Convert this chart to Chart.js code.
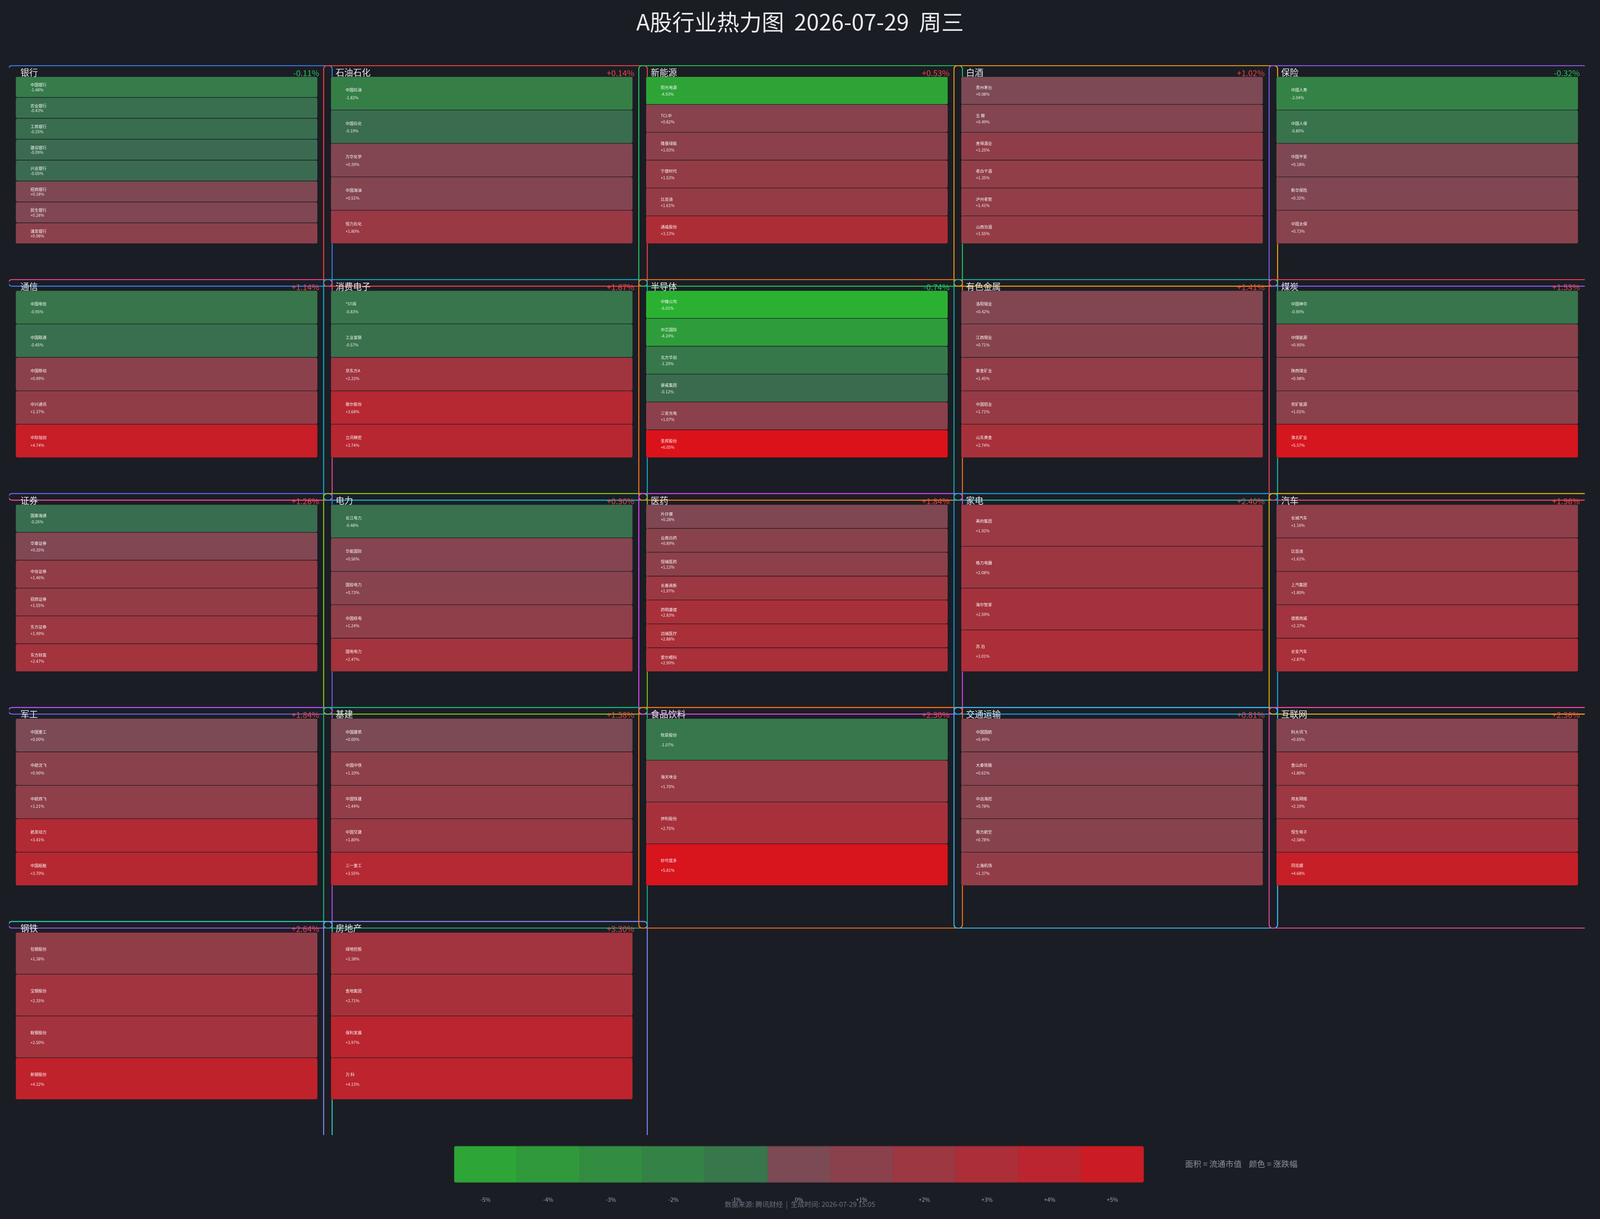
<!DOCTYPE html>
<html>
<head>
<meta charset="utf-8">
<title>A股行业热力图</title>
<script src="https://cdn.jsdelivr.net/npm/chart.js@4.4.1/dist/chart.umd.min.js"></script>
<style>
html,body{margin:0;padding:0;background:#1b1d24;overflow:hidden;width:100%;height:100%}
#wrap{position:relative;width:100vw;height:100vh}
</style>
</head>
<body>
<div id="wrap"><canvas id="c"></canvas></div>
<script>
// ---------------- data ----------------
const titleText = 'A股行业热力图  2026-07-29  周三';
const noteText = '面积 = 流通市值    颜色 = 涨跌幅';
const footerText = '数据来源: 腾讯财经  |  生成时间: 2026-07-29 15:05';

const sectorNames = ['银行','石油石化','新能源','白酒','保险',
  '通信','消费电子','半导体','有色金属','煤炭',
  '证券','电力','医药','家电','汽车',
  '军工','基建','食品饮料','交通运输','互联网',
  '钢铁','房地产'];
const sectorChanges = [-0.11,0.14,0.53,1.02,-0.32,
  1.14,1.67,-0.74,1.41,1.53,
  1.26,0.90,1.84,2.40,1.96,
  1.84,1.58,2.30,0.81,2.36,
  2.64,3.30];
const sectorColors = ['#3b82f6','#ef4444','#22c55e','#f59e0b','#8b5cf6',
  '#ec4899','#06b6d4','#f97316','#14b8a6','#f43f5e',
  '#6366f1','#84cc16','#d946ef','#0ea5e9','#eab308',
  '#a855f7','#10b981','#f97316','#38bdf8','#ec4899',
  '#2dd4bf','#818cf8'];

const stockNames = [
  ['中国银行','农业银行','工商银行','建设银行','兴业银行','招商银行','民生银行','浦发银行'],
  ['中国石油','中国石化','万华化学','中国海油','恒力石化'],
  ['阳光电源','TCL中','隆基绿能','宁德时代','比亚迪','通威股份'],
  ['贵州茅台','五 粮','舍得酒业','老白干酒','泸州老窖','山西汾酒'],
  ['中国人寿','中国人保','中国平安','新华保险','中国太保'],
  ['中国电信','中国联通','中国移动','中兴通讯','中际旭创'],
  ['*ST闻','工业富联','京东方A','歌尔股份','立讯精密'],
  ['中微公司','中芯国际','北方华创','豪威集团','三安光电','圣邦股份'],
  ['洛阳钼业','江西铜业','紫金矿业','中国铝业','山东黄金'],
  ['中国神华','中煤能源','陕西煤业','兖矿能源','淮北矿业'],
  ['国泰海通','华泰证券','中信证券','招商证券','东方证券','东方财富'],
  ['长江电力','华能国际','国投电力','中国核电','国电电力'],
  ['片仔癀','云南白药','恒瑞医药','长春高新','药明康德','迈瑞医疗','爱尔眼科'],
  ['美的集团','格力电器','海尔智家','苏 泊'],
  ['长城汽车','比亚迪','上汽集团','德赛西威','长安汽车'],
  ['中国重工','中航沈飞','中航西飞','航发动力','中国船舶'],
  ['中国建筑','中国中铁','中国铁建','中国交建','三一重工'],
  ['牧原股份','海天味业','伊利股份','妙可蓝多'],
  ['中国国航','大秦铁路','中远海控','南方航空','上海机场'],
  ['科大讯飞','金山办公','用友网络','恒生电子','同花顺'],
  ['包钢股份','宝钢股份','鞍钢股份','新钢股份'],
  ['绿地控股','金地集团','保利发展','万 科']
];
const stockChanges = [
  [-1.48,-0.43,-0.25,-0.09,-0.05,0.18,0.28,0.98],
  [-1.82,-0.19,0.39,0.51,1.80],
  [-4.93,0.82,1.03,1.53,1.61,3.13],
  [0.08,0.49,1.25,1.35,1.41,1.55],
  [-2.04,-0.80,0.18,0.32,0.73],
  [-0.95,-0.45,0.99,1.37,4.74],
  [-0.83,-0.57,2.33,3.68,3.74],
  [-6.01,-4.24,-1.20,-0.12,1.07,6.05],
  [0.42,0.71,1.45,1.71,2.74],
  [-0.90,0.95,0.98,1.01,5.57],
  [-0.26,0.35,1.46,1.55,1.99,2.47],
  [-0.48,0.56,0.73,1.24,2.47],
  [0.28,0.89,1.13,1.97,2.83,2.88,2.90],
  [1.92,2.08,2.59,3.01],
  [1.16,1.61,1.80,2.37,2.87],
  [0.00,0.90,1.21,3.41,3.70],
  [0.00,1.10,1.44,1.80,3.55],
  [-1.07,1.70,2.75,5.81],
  [0.49,0.61,0.78,0.78,1.37],
  [0.65,1.80,2.10,2.58,4.68],
  [1.38,2.35,2.50,4.32],
  [2.38,2.71,3.97,4.13]
];
const legendSteps = [-5,-4,-3,-2,-1,0,1,2,3,4,5];

// ---------------- layout ----------------
const W = window.innerWidth || 5148, H = window.innerHeight || 3121;
const sx = W / 5148, sy = H / 3121, fs = Math.min(sx, sy);
const GRID_COLS = 5, GRID_ROWS = 5;
const ROW_PX = 547.8, COL_PX = 1014;
const CELL_TOP = 29 / ROW_PX, CELL_SPAN = 428 / ROW_PX;
const BOX_OVER = 19 / ROW_PX, BOX_SHIFT = 12 / COL_PX;
const FONT = '"Noto Sans CJK SC","Noto Sans",sans-serif';
function px(n) { return Math.max(1, n * fs).toFixed(1) + 'px ' + FONT; }

function heat(p) {
  let r, g, b;
  if (p < 0) {
    const t = Math.min(-p / 8, 1);
    r = 58 - 20 * t; g = 106 + 94 * t; b = 80 - 40 * t;
  } else {
    const t = Math.min(p / 8, 1);
    r = 123 + 128 * t; g = 74 - 74 * t; b = 85 - 77 * t;
  }
  return 'rgb(' + Math.round(r) + ',' + Math.round(g) + ',' + Math.round(b) + ')';
}
function fmt(p) { return (p >= 0 ? '+' : '') + p.toFixed(2) + '%'; }

const cellData = [], boxData = [], firstCell = [];
sectorNames.forEach((s, k) => {
  const col = k % GRID_COLS, row = Math.floor(k / GRID_COLS);
  boxData.push({x: col + 0.5 + BOX_SHIFT, y: [row, row + 1 + BOX_OVER], k: k});
  const n = stockNames[k].length;
  firstCell.push(cellData.length);
  stockNames[k].forEach((nm, i) => {
    cellData.push({
      x: col + 0.5,
      y: [row + CELL_TOP + CELL_SPAN * i / n, row + CELL_TOP + CELL_SPAN * (i + 1) / n],
      name: nm, pct: stockChanges[k][i], k: k
    });
  });
});

const textPlugin = {
  id: 'heatText',
  afterDatasetsDraw(chart) {
    const ctx = chart.ctx;
    const meta = chart.getDatasetMeta(1);
    ctx.save();
    ctx.textAlign = 'left';
    ctx.textBaseline = 'middle';
    meta.data.forEach((el, i) => {
      const d = cellData[i];
      const p = el.getProps(['x', 'y', 'base', 'width'], true);
      const top = Math.min(p.y, p.base), h = Math.abs(p.base - p.y);
      const left = p.x - p.width / 2;
      ctx.font = px(13);
      ctx.fillStyle = 'rgba(255,255,255,0.95)';
      ctx.fillText(d.name, left + 48 * sx, top + 0.40 * h);
      ctx.fillStyle = 'rgba(255,255,255,0.88)';
      ctx.fillText(fmt(d.pct), left + 48 * sx, top + 0.63 * h);
    });
    ctx.textBaseline = 'alphabetic';
    sectorNames.forEach((s, k) => {
      const el = meta.data[firstCell[k]];
      const p = el.getProps(['x', 'y', 'base', 'width'], true);
      const top = Math.min(p.y, p.base);
      const left = p.x - p.width / 2, right = p.x + p.width / 2;
      ctx.textAlign = 'left';
      ctx.font = px(28);
      ctx.fillStyle = '#e5e7eb';
      ctx.fillText(s, left + 16 * sx, top - 2 * sy);
      ctx.textAlign = 'right';
      ctx.font = px(26);
      ctx.fillStyle = sectorChanges[k] >= 0 ? '#ef4444' : '#22c55e';
      ctx.fillText(fmt(sectorChanges[k]), right + 5 * sx, top - 1 * sy);
    });
    ctx.restore();
  },
  afterDraw(chart) {
    const ctx = chart.ctx;
    const cw = chart.width;
    ctx.save();
    ctx.textAlign = 'center';
    ctx.textBaseline = 'middle';
    ctx.font = px(72);
    ctx.fillStyle = '#e8e9ec';
    ctx.fillText(titleText, cw / 2, 56 * sy);
    // colour legend
    const lx = 1461 * sx, lw = 2219 * sx, ly = 2934 * sy, lh = 94 * sy;
    const sw = lw / legendSteps.length;
    ctx.save();
    ctx.beginPath();
    ctx.roundRect(lx, ly, lw, lh, 6 * fs);
    ctx.clip();
    legendSteps.forEach((v, i) => {
      ctx.fillStyle = heat(v);
      ctx.fillRect(lx + i * sw, ly, sw + 0.5, lh);
      ctx.fillStyle = 'rgba(0,0,0,0.06)';
      ctx.fillRect(lx + i * sw, ly, 1, lh);
    });
    ctx.fillStyle = 'rgba(0,0,0,0.18)';
    ctx.fillRect(lx, ly, lw, 2 * sy);
    ctx.fillRect(lx, ly + lh - 2 * sy, lw, 2 * sy);
    ctx.restore();
    ctx.font = px(18);
    ctx.fillStyle = '#9ca3af';
    legendSteps.forEach((v, i) => {
      ctx.fillText((v > 0 ? '+' : '') + v + '%', lx + (i + 0.5) * sw, 3072 * sy);
    });
    ctx.textAlign = 'left';
    ctx.font = px(26);
    ctx.fillStyle = '#8b919b';
    ctx.fillText(noteText, 3813 * sx, 2980 * sy);
    ctx.textAlign = 'center';
    ctx.font = px(22);
    ctx.fillStyle = '#6b7280';
    ctx.fillText(footerText, cw / 2, 3083 * sy);
    ctx.restore();
  }
};

new Chart(document.getElementById('c'), {
  type: 'bar',
  data: {
    datasets: [
      {
        label: 'sectors',
        data: boxData,
        order: 2,
        grouped: false,
        barThickness: 1044 * sx,
        backgroundColor: 'rgba(0,0,0,0)',
        borderColor: (c) => (c.raw ? sectorColors[c.raw.k] : '#888'),
        borderWidth: 2.5 * fs,
        borderRadius: 12 * fs,
        borderSkipped: false
      },
      {
        label: 'stocks',
        data: cellData,
        order: 1,
        grouped: false,
        barThickness: 972 * sx,
        backgroundColor: (c) => (c.raw ? heat(c.raw.pct) : '#555'),
        borderColor: 'rgba(22,20,26,0.45)',
        borderWidth: 1,
        borderRadius: 6 * fs,
        borderSkipped: false
      }
    ]
  },
  options: {
    responsive: true,
    maintainAspectRatio: false,
    devicePixelRatio: 1,
    animation: false,
    events: [],
    layout: {padding: {left: 29 * sx, right: 49 * sx, top: 167 * sy, bottom: 215 * sy}},
    scales: {
      x: {type: 'linear', min: 0, max: GRID_COLS, offset: false, display: false},
      y: {type: 'linear', min: 0, max: GRID_ROWS, reverse: true, offset: false, display: false}
    },
    plugins: {legend: {display: false}, tooltip: {enabled: false}, title: {display: false}}
  },
  plugins: [textPlugin]
});
</script>
</body>
</html>
